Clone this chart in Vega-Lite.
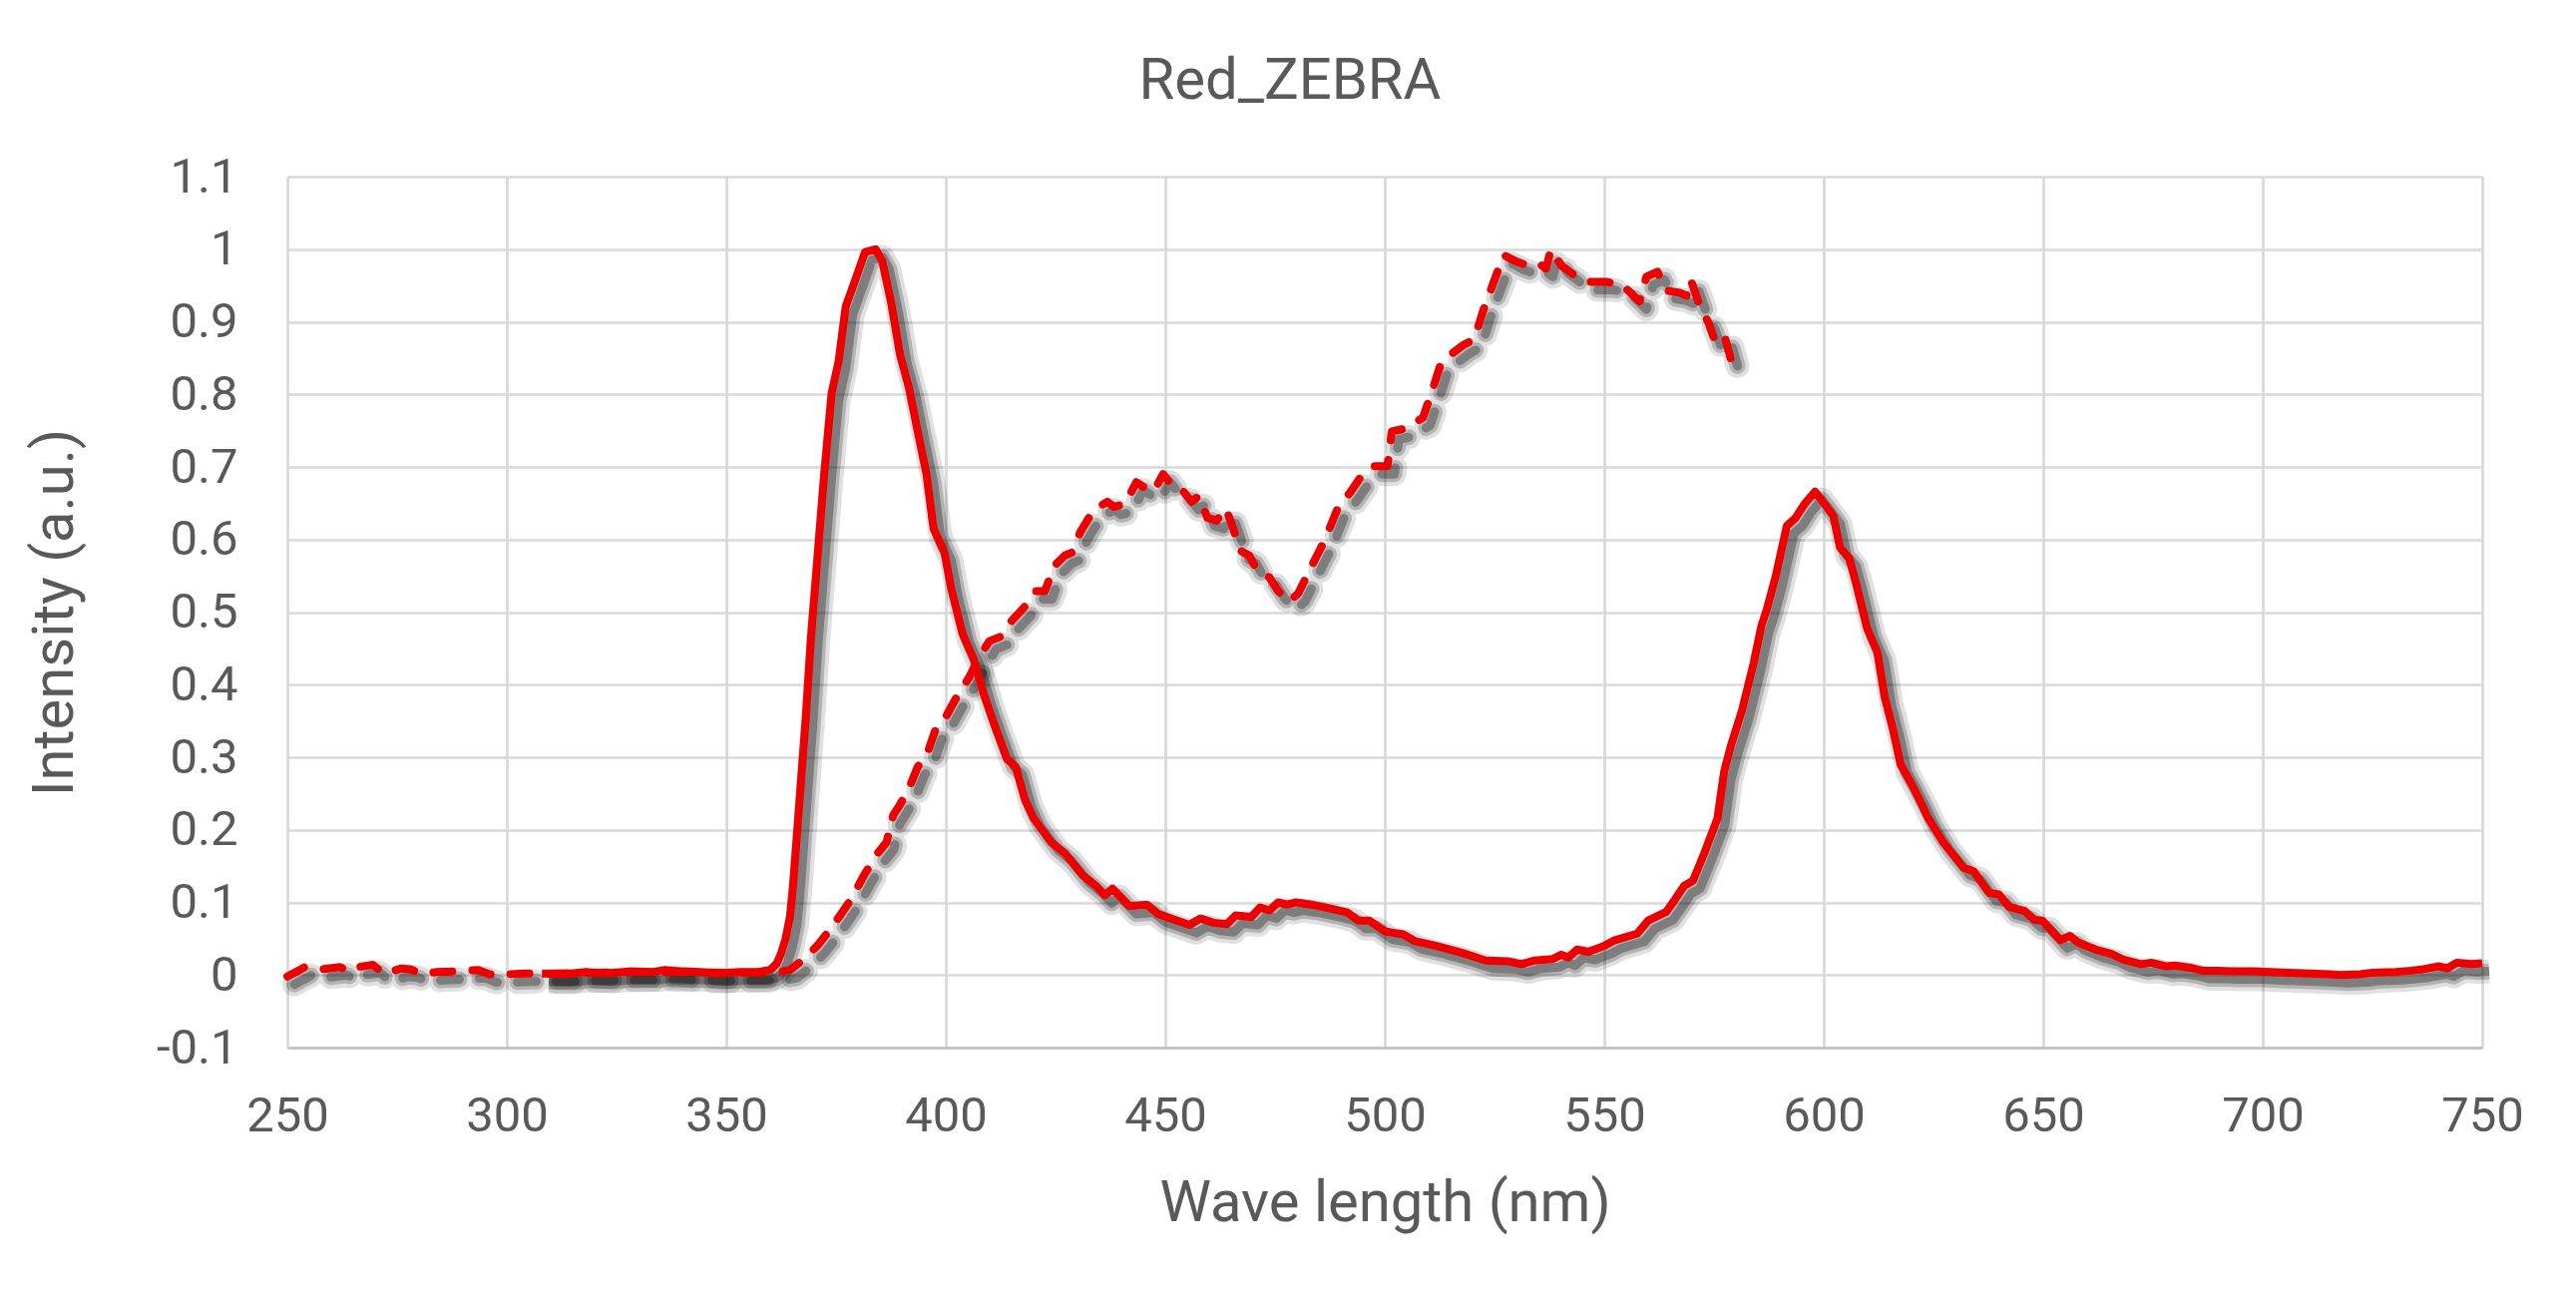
{
  "$schema": "https://vega.github.io/schema/vega-lite/v6.json",
  "width": 2200,
  "height": 873,
  "autosize": "none",
  "padding": {"left": 288, "top": 177, "right": 94, "bottom": 252},
  "background": "white",
  "title": {
    "text": "Red_ZEBRA",
    "anchor": "middle",
    "frame": "group",
    "dx": -95,
    "offset": 42,
    "font": "Roboto",
    "fontSize": 58,
    "fontWeight": "normal",
    "color": "#595959"
  },
  "config": {
    "view": {"stroke": null},
    "font": "Roboto",
    "axis": {
      "labelFont": "Roboto",
      "titleFont": "Roboto",
      "labelColor": "#595959",
      "titleColor": "#595959",
      "labelFontSize": 49,
      "titleFontSize": 58,
      "titleFontWeight": "normal",
      "gridColor": "#d9d9d9",
      "gridWidth": 2.7,
      "ticks": false
    }
  },
  "datasets": {
    "em": [
      {"wl": 308, "v": 0.002}, {"wl": 313, "v": 0.001}, {"wl": 318, "v": 0.004}, {"wl": 322, "v": 0.002},
      {"wl": 328, "v": 0.005}, {"wl": 333, "v": 0.004}, {"wl": 336, "v": 0.007}, {"wl": 340, "v": 0.005},
      {"wl": 344, "v": 0.004}, {"wl": 348, "v": 0.002}, {"wl": 353, "v": 0.004}, {"wl": 357, "v": 0.004},
      {"wl": 360, "v": 0.007}, {"wl": 361.5, "v": 0.016}, {"wl": 362.5, "v": 0.03}, {"wl": 363.5, "v": 0.05},
      {"wl": 364.5, "v": 0.08}, {"wl": 365.2, "v": 0.123}, {"wl": 366.7, "v": 0.242}, {"wl": 368.1, "v": 0.354},
      {"wl": 369.3, "v": 0.466}, {"wl": 370.8, "v": 0.578}, {"wl": 372.3, "v": 0.69}, {"wl": 374.0, "v": 0.802},
      {"wl": 375.6, "v": 0.846}, {"wl": 377.2, "v": 0.921}, {"wl": 379.4, "v": 0.958}, {"wl": 381.6, "v": 0.996},
      {"wl": 384.0, "v": 1.0}, {"wl": 385.5, "v": 0.984}, {"wl": 387.5, "v": 0.928}, {"wl": 389.6, "v": 0.854},
      {"wl": 391.6, "v": 0.809}, {"wl": 393.6, "v": 0.749}, {"wl": 395.6, "v": 0.69}, {"wl": 397.2, "v": 0.615},
      {"wl": 399.7, "v": 0.582}, {"wl": 401.2, "v": 0.533}, {"wl": 403.8, "v": 0.47}, {"wl": 406.3, "v": 0.436},
      {"wl": 408.8, "v": 0.384}, {"wl": 411.4, "v": 0.339}, {"wl": 413.9, "v": 0.298}, {"wl": 415.9, "v": 0.287},
      {"wl": 418, "v": 0.242}, {"wl": 420, "v": 0.216}, {"wl": 424, "v": 0.183}, {"wl": 427.1, "v": 0.168},
      {"wl": 431.1, "v": 0.138}, {"wl": 434.2, "v": 0.123}, {"wl": 436.2, "v": 0.11}, {"wl": 438, "v": 0.119},
      {"wl": 441.8, "v": 0.095}, {"wl": 445.8, "v": 0.097}, {"wl": 448.4, "v": 0.084}, {"wl": 455.5, "v": 0.069},
      {"wl": 458, "v": 0.078}, {"wl": 461, "v": 0.072}, {"wl": 464, "v": 0.07}, {"wl": 466, "v": 0.082},
      {"wl": 469.6, "v": 0.08}, {"wl": 471.6, "v": 0.093}, {"wl": 473.7, "v": 0.089}, {"wl": 475.7, "v": 0.1},
      {"wl": 477.7, "v": 0.097}, {"wl": 479.8, "v": 0.1}, {"wl": 483.3, "v": 0.097}, {"wl": 487.4, "v": 0.092},
      {"wl": 491.5, "v": 0.086}, {"wl": 494, "v": 0.075}, {"wl": 496.5, "v": 0.075}, {"wl": 500.1, "v": 0.06},
      {"wl": 504.2, "v": 0.056}, {"wl": 506.7, "v": 0.047}, {"wl": 511.8, "v": 0.04}, {"wl": 517.9, "v": 0.03},
      {"wl": 523, "v": 0.02}, {"wl": 528, "v": 0.019}, {"wl": 531.1, "v": 0.015}, {"wl": 534.1, "v": 0.02},
      {"wl": 538.2, "v": 0.022}, {"wl": 540.2, "v": 0.028}, {"wl": 541.8, "v": 0.024}, {"wl": 543.8, "v": 0.035},
      {"wl": 546.3, "v": 0.032}, {"wl": 549.9, "v": 0.04}, {"wl": 552.4, "v": 0.048}, {"wl": 557.5, "v": 0.057},
      {"wl": 560, "v": 0.075}, {"wl": 564.1, "v": 0.087}, {"wl": 566.1, "v": 0.104}, {"wl": 568.2, "v": 0.123},
      {"wl": 570.2, "v": 0.13}, {"wl": 572.8, "v": 0.168}, {"wl": 575.8, "v": 0.216}, {"wl": 577.3, "v": 0.28},
      {"wl": 578.9, "v": 0.317}, {"wl": 581.4, "v": 0.365}, {"wl": 584, "v": 0.429}, {"wl": 585.8, "v": 0.481},
      {"wl": 587, "v": 0.503}, {"wl": 589, "v": 0.548}, {"wl": 591.6, "v": 0.619}, {"wl": 593.6, "v": 0.63},
      {"wl": 595.6, "v": 0.649}, {"wl": 598, "v": 0.666}, {"wl": 600.2, "v": 0.649}, {"wl": 602.2, "v": 0.632},
      {"wl": 603.7, "v": 0.589}, {"wl": 605.8, "v": 0.574}, {"wl": 607.3, "v": 0.541}, {"wl": 609.9, "v": 0.477},
      {"wl": 612.2, "v": 0.445}, {"wl": 613.9, "v": 0.382}, {"wl": 615.7, "v": 0.34}, {"wl": 617.5, "v": 0.29},
      {"wl": 619.7, "v": 0.266}, {"wl": 621.5, "v": 0.245}, {"wl": 623.8, "v": 0.216}, {"wl": 627.3, "v": 0.182},
      {"wl": 631.8, "v": 0.148}, {"wl": 634.1, "v": 0.143}, {"wl": 637.7, "v": 0.113}, {"wl": 639.9, "v": 0.111},
      {"wl": 642.2, "v": 0.094}, {"wl": 645.8, "v": 0.088}, {"wl": 648, "v": 0.076}, {"wl": 649.8, "v": 0.075},
      {"wl": 653.9, "v": 0.048}, {"wl": 656.1, "v": 0.054}, {"wl": 657.9, "v": 0.045}, {"wl": 662, "v": 0.035},
      {"wl": 665.6, "v": 0.029}, {"wl": 668.3, "v": 0.021}, {"wl": 672.3, "v": 0.015}, {"wl": 674.6, "v": 0.017},
      {"wl": 678.1, "v": 0.012}, {"wl": 680, "v": 0.013}, {"wl": 683.5, "v": 0.01}, {"wl": 686.2, "v": 0.006},
      {"wl": 689.8, "v": 0.006}, {"wl": 692.5, "v": 0.005}, {"wl": 697.9, "v": 0.005}, {"wl": 701.5, "v": 0.004},
      {"wl": 706, "v": 0.003}, {"wl": 710.5, "v": 0.002}, {"wl": 715, "v": 0.001}, {"wl": 717.7, "v": 0.0},
      {"wl": 722.2, "v": 0.001}, {"wl": 724.9, "v": 0.003}, {"wl": 730.3, "v": 0.004}, {"wl": 733.9, "v": 0.006},
      {"wl": 736.6, "v": 0.008}, {"wl": 738.4, "v": 0.01}, {"wl": 740.2, "v": 0.012}, {"wl": 742, "v": 0.009},
      {"wl": 744.2, "v": 0.017}, {"wl": 747.4, "v": 0.015}, {"wl": 750, "v": 0.016}
    ],
    "ex": [
      {"wl": 250, "v": -0.002}, {"wl": 254, "v": 0.011}, {"wl": 258, "v": 0.008}, {"wl": 262, "v": 0.011},
      {"wl": 264, "v": 0.005}, {"wl": 266, "v": 0.011}, {"wl": 269.5, "v": 0.014}, {"wl": 272, "v": 0.002},
      {"wl": 276, "v": 0.009}, {"wl": 278, "v": 0.008}, {"wl": 280.5, "v": 0.002}, {"wl": 284, "v": 0.004},
      {"wl": 288, "v": 0.005}, {"wl": 293.5, "v": 0.007}, {"wl": 296, "v": 0.001}, {"wl": 300, "v": 0.001},
      {"wl": 304, "v": 0.002}, {"wl": 310, "v": 0.002}, {"wl": 320, "v": 0.003}, {"wl": 330, "v": 0.004},
      {"wl": 340, "v": 0.004}, {"wl": 350, "v": 0.003}, {"wl": 358, "v": 0.003}, {"wl": 362, "v": 0.004},
      {"wl": 364.5, "v": 0.007}, {"wl": 367.7, "v": 0.022}, {"wl": 370.8, "v": 0.041}, {"wl": 373.3, "v": 0.06},
      {"wl": 375.9, "v": 0.082}, {"wl": 378.4, "v": 0.104}, {"wl": 381.4, "v": 0.138}, {"wl": 384.5, "v": 0.168},
      {"wl": 386.5, "v": 0.183}, {"wl": 388, "v": 0.22}, {"wl": 389.6, "v": 0.235}, {"wl": 391.6, "v": 0.257},
      {"wl": 393.6, "v": 0.287}, {"wl": 395.6, "v": 0.302}, {"wl": 397.7, "v": 0.339}, {"wl": 400.2, "v": 0.358},
      {"wl": 402.2, "v": 0.38}, {"wl": 405.3, "v": 0.41}, {"wl": 407.8, "v": 0.44}, {"wl": 409.9, "v": 0.46},
      {"wl": 412.4, "v": 0.466}, {"wl": 415, "v": 0.488}, {"wl": 418.5, "v": 0.511}, {"wl": 420.5, "v": 0.529},
      {"wl": 422.6, "v": 0.529}, {"wl": 424.6, "v": 0.563}, {"wl": 427.1, "v": 0.578}, {"wl": 428.7, "v": 0.582},
      {"wl": 430.7, "v": 0.611}, {"wl": 433.7, "v": 0.641}, {"wl": 436.8, "v": 0.652}, {"wl": 438.3, "v": 0.645},
      {"wl": 440.8, "v": 0.649}, {"wl": 443.4, "v": 0.679}, {"wl": 445.4, "v": 0.671}, {"wl": 447.4, "v": 0.667},
      {"wl": 449.5, "v": 0.69}, {"wl": 452, "v": 0.671}, {"wl": 454, "v": 0.667}, {"wl": 456, "v": 0.652},
      {"wl": 457.6, "v": 0.66}, {"wl": 459.6, "v": 0.63}, {"wl": 461.7, "v": 0.626}, {"wl": 463.8, "v": 0.643},
      {"wl": 465.5, "v": 0.615}, {"wl": 467, "v": 0.585}, {"wl": 469.1, "v": 0.578}, {"wl": 471.1, "v": 0.556},
      {"wl": 473.7, "v": 0.548}, {"wl": 475.7, "v": 0.529}, {"wl": 478.3, "v": 0.515}, {"wl": 480.3, "v": 0.526},
      {"wl": 483.3, "v": 0.563}, {"wl": 486.4, "v": 0.6}, {"wl": 489.4, "v": 0.645}, {"wl": 492, "v": 0.664},
      {"wl": 494.5, "v": 0.686}, {"wl": 497.6, "v": 0.701}, {"wl": 500.6, "v": 0.701}, {"wl": 501.6, "v": 0.749},
      {"wl": 504.7, "v": 0.753}, {"wl": 508.7, "v": 0.768}, {"wl": 510.8, "v": 0.805}, {"wl": 512.8, "v": 0.843},
      {"wl": 514.8, "v": 0.854}, {"wl": 517.9, "v": 0.868}, {"wl": 520.4, "v": 0.876}, {"wl": 522.5, "v": 0.917},
      {"wl": 525, "v": 0.958}, {"wl": 527.1, "v": 0.992}, {"wl": 529.6, "v": 0.984}, {"wl": 532.7, "v": 0.977},
      {"wl": 535.2, "v": 0.98}, {"wl": 536.7, "v": 0.973}, {"wl": 537.8, "v": 0.999}, {"wl": 540.3, "v": 0.977},
      {"wl": 542.8, "v": 0.966}, {"wl": 546.3, "v": 0.955}, {"wl": 550.4, "v": 0.955}, {"wl": 554, "v": 0.951},
      {"wl": 556, "v": 0.94}, {"wl": 558, "v": 0.928}, {"wl": 559.6, "v": 0.962}, {"wl": 562.1, "v": 0.969},
      {"wl": 564.1, "v": 0.943}, {"wl": 567.2, "v": 0.94}, {"wl": 568.7, "v": 0.936}, {"wl": 569.7, "v": 0.958},
      {"wl": 571.8, "v": 0.921}, {"wl": 573.8, "v": 0.898}, {"wl": 575.3, "v": 0.872}, {"wl": 577.4, "v": 0.88},
      {"wl": 578.4, "v": 0.858}, {"wl": 579.9, "v": 0.824}
    ]
  },
  "encoding": {
    "x": {
      "field": "wl",
      "type": "quantitative",
      "title": "Wave length (nm)",
      "scale": {"domain": [250, 750], "nice": false, "zero": false},
      "axis": {
        "values": [250, 300, 350, 400, 450, 500, 550, 600, 650, 700, 750],
        "labelFlush": false,
        "labelPadding": 44,
        "titlePadding": 34,
        "domainColor": "#bfbfbf",
        "domainWidth": 2.7
      }
    },
    "y": {
      "field": "v",
      "type": "quantitative",
      "title": "Intensity (a.u.)",
      "scale": {"domain": [-0.1, 1.1], "nice": false, "zero": false},
      "axis": {
        "values": [-0.1, 0, 0.1, 0.2, 0.3, 0.4, 0.5, 0.6, 0.7, 0.8, 0.9, 1, 1.1],
        "labelExpr": "datum.value < 0 ? '-' + format(-datum.value, '~g') : format(datum.value, '~g')",
        "labelPadding": 50,
        "titlePadding": 72,
        "domain": false
      }
    }
  },
  "layer": [
    {
      "data": {"name": "ex"},
      "mark": {"type": "line", "stroke": "#000000", "strokeWidth": 24, "opacity": 0.12, "strokeDash": [19, 20], "strokeCap": "round", "strokeJoin": "round", "xOffset": 7, "yOffset": 8}
    },
    {
      "data": {"name": "ex"},
      "mark": {"type": "line", "stroke": "#000000", "strokeWidth": 16, "opacity": 0.2, "strokeDash": [19, 20], "strokeCap": "round", "strokeJoin": "round", "xOffset": 7, "yOffset": 8}
    },
    {
      "data": {"name": "ex"},
      "mark": {"type": "line", "stroke": "#000000", "strokeWidth": 9, "opacity": 0.3, "strokeDash": [19, 20], "strokeCap": "round", "strokeJoin": "round", "xOffset": 7, "yOffset": 8}
    },
    {
      "data": {"name": "em"},
      "mark": {"type": "line", "stroke": "#000000", "strokeWidth": 24, "opacity": 0.12, "strokeJoin": "round", "xOffset": 7, "yOffset": 8}
    },
    {
      "data": {"name": "em"},
      "mark": {"type": "line", "stroke": "#000000", "strokeWidth": 16, "opacity": 0.2, "strokeJoin": "round", "xOffset": 7, "yOffset": 8}
    },
    {
      "data": {"name": "em"},
      "mark": {"type": "line", "stroke": "#000000", "strokeWidth": 9, "opacity": 0.3, "strokeJoin": "round", "xOffset": 7, "yOffset": 8}
    },
    {
      "data": {"name": "ex"},
      "mark": {"type": "line", "stroke": "#ee0000", "strokeWidth": 8, "strokeDash": [19, 20], "strokeCap": "round", "strokeJoin": "round"}
    },
    {
      "data": {"name": "em"},
      "mark": {"type": "line", "stroke": "#ee0000", "strokeWidth": 8, "strokeJoin": "round"}
    }
  ]
}
